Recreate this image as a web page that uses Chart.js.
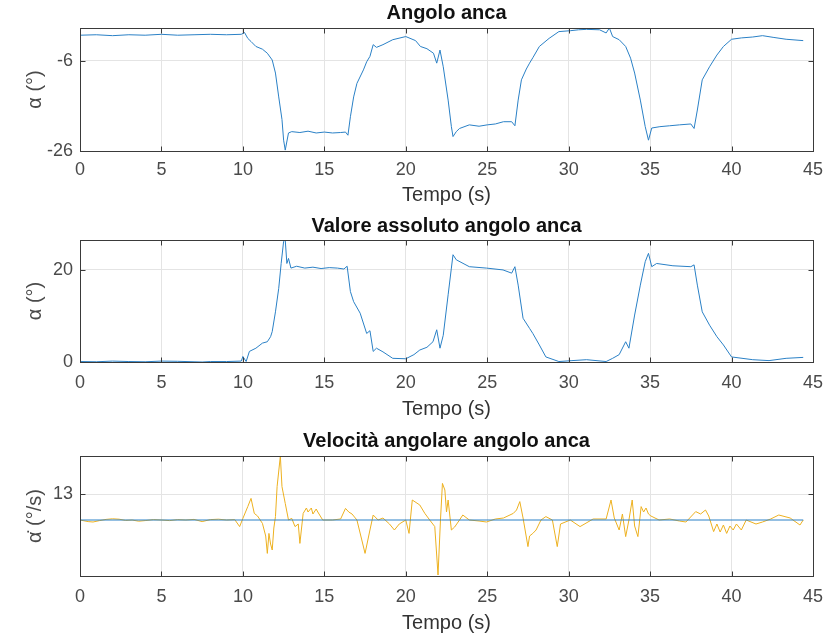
<!DOCTYPE html>
<html lang="it">
<head>
<meta charset="UTF-8">
<title>Angolo anca</title>
<style>
  body {margin: 0; background: #fff;}
  canvas {position: absolute; left: 0;}
</style>
</head>
<body>
<canvas id="c1" width="840" height="208" style="top:0px"></canvas>
<canvas id="c2" width="840" height="217" style="top:205px"></canvas>
<canvas id="c3" width="840" height="216" style="top:420px"></canvas>
<script src="https://cdn.jsdelivr.net/npm/chart.js@4.4.0/dist/chart.umd.min.js"></script>
<script>
// tempo (s) e angolo anca (°)
const tAngle = [0,1,2,3,4,5,6,7,8,9, 9.9,10.1,10.3,10.5,10.8,11.2,11.5,11.8,12.0,12.2,
  12.4,12.5,12.6,12.8,13.0,13.5,14,14.5,15,15.5, 16,16.3,16.45,16.6,16.8,17.0,17.4,17.6,17.8,18.0,
  18.2,18.6,19.2,20.0,20.6,20.9,21.3,21.7,21.9,22.1, 22.3,22.6,22.8,22.9,23.1,23.3,23.9,24.5,25.0,25.5,
  26.0,26.5,26.7,26.9,27.1,27.4,27.6,27.8,28.2,28.8, 29.4,30.1,30.6,31.1,31.9,32.3,32.5,32.7,33.1,33.5,
  33.8,34.05,34.4,34.7,34.9,35.1,35.6,36.2,36.8,37.5, 37.7,37.9,38.2,38.65,39.1,39.5,40.0,40.6,41.3,41.9,
  42.6,43.35,44.4];
const angle = [-0.3,-0.2,-0.4,-0.2,-0.3,-0.1,-0.3,-0.2,-0.1,-0.2, -0.1,0.3,-1.0,-1.7,-2.8,-3.4,-4.3,-5.8,-8.7,-14,
  -19,-23.6,-25.8,-22,-21.7,-21.9,-21.6,-22.0,-21.8,-22.0, -21.9,-21.8,-22.5,-18.4,-14,-11,-8,-6.2,-5.0,-2.4,
  -3.0,-2.4,-1.3,-0.6,-1.5,-2.8,-3.3,-4.3,-6.5,-3.6, -7.3,-14.7,-20.6,-22.8,-21.7,-21.0,-20.2,-20.5,-20.2,-20.0,
  -19.5,-19.5,-20.4,-14.7,-10.2,-7.8,-6.5,-5.3,-2.8,-1.0, 0.5,0.7,0.9,1.0,0.9,0.2,1.3,-0.6,-1.3,-2.8,
  -5.4,-8.7,-14.7,-20.6,-23.6,-20.9,-20.6,-20.4,-20.2,-20.0, -21.0,-16.9,-10.2,-7.3,-4.7,-2.8,-1.2,-0.9,-0.7,-0.4,
  -0.8,-1.2,-1.5];

// valore assoluto angolo anca
const tAbs = [0,1,2,3,4,5,6,7,7.5,8, 9,9.9,10.0,10.2,10.4,10.8,11.2,11.5,11.7,11.8,
  12.0,12.2,12.35,12.5,12.6,12.7,12.8,12.95,13.3,13.8, 14.3,14.8,15.3,15.8,16.2,16.4,16.6,16.8,17.2,17.6,
  17.8,18.0,18.2,18.6,19.2,20.0,20.5,20.86,21.3,21.67, 21.9,22.1,22.3,22.6,22.8,22.9,23.1,23.9,24.95,25.97,
  26.5,26.7,26.9,27.2,27.6,27.8,28.2,28.6,29.4,30.2, 31.1,32.3,32.7,33.1,33.5,33.7,34.05,34.4,34.7,34.9,
  35.1,35.4,36.4,37.5,37.7,37.9,38.2,38.65,39.1,39.5, 40.0,41.3,42.3,43.35,44.4];
const absAngle = [0.1,0.05,0.2,0.1,0.05,0.2,0.15,0.05,0.0,0.1, 0.1,0.2,1.2,0.1,2.3,3.0,4.1,4.4,5.5,6.6,
  10.9,16,21.4,26.2,26.5,21.4,22.5,20.4,20.8,20.4, 20.6,20.3,20.5,20.4,20.2,20.8,15.3,13.1,10.6,6.2,
  6.8,2.3,3.0,2.2,0.8,0.7,1.6,2.6,3.2,4.4, 7.0,3.0,5.8,14.6,20.4,23.3,22.2,20.7,20.4,20.0,
  19.3,20.7,16.7,9.5,7.3,6.2,3.7,1.1,0.1,0.3, 0.5,0.1,0.8,1.6,4.4,3.0,10.2,16.7,21.8,23.6,
  20.7,21.4,20.9,20.7,21.1,16.7,10.9,8.0,5.5,3.7, 1.1,0.5,0.3,0.8,1.0];

// velocità angolare (°/s)
const tVel = [0,0.5,0.8,1.2,1.6,2.0,2.4,2.8,3.2,3.6, 4.0,4.5,5.0,5.5,6.0,6.5,7.0,7.5,8.0,8.5,
  9.0,9.5,9.8,10.0,10.3,10.5,10.7,10.9,11.2,11.4, 11.5,11.6,11.7,11.8,11.9,12.0,12.1,12.3,12.4,12.6,
  12.8,13.0,13.2,13.4,13.5,13.7,13.9,14.0,14.2,14.3, 14.5,14.6,14.9,15.5,16.0,16.3,16.5,16.7,17.0,17.3,
  17.5,17.8,18.0,18.3,18.6,19.0,19.3,19.6,20.0,20.2, 20.4,20.86,21.17,21.47,21.78,21.98,22.13,22.25,22.4,22.5,
  22.6,22.8,23.0,23.3,23.5,23.9,24.5,24.95,25.5,26.0, 26.6,26.8,27.0,27.2,27.5,27.6,27.8,28.0,28.3,28.6,
  29.0,29.3,29.5,30.1,30.7,31.5,32.3,32.6,32.8,33.1, 33.3,33.5,33.7,33.9,34.05,34.25,34.45,34.6,34.75,34.9,
  35.05,35.55,36.2,36.8,37.2,37.8,38.1,38.4,38.6,38.9, 39.1,39.3,39.5,39.7,39.9,40.1,40.3,40.6,40.9,41.5,
  41.9,42.4,42.9,43.6,44.2,44.4];
const vel = [0,-0.8,-1.0,-0.3,0.3,0.6,0.4,-0.2,0,-0.6, -0.3,0.2,0,-0.3,0.2,0,0.3,-0.8,0.2,0.4,
  0,0.2,-3.3,0.8,6.7,10.8,3.3,2,-1.7,-8, -16.7,-6.7,-12,-15,-4,1.7,16.7,32,16.7,8.3,
  0,0.8,-3.3,-2,-11.7,3.3,6,4,6,3, 5.5,4,0,0,0.5,5.8,4,3,0,-10,
  -16.7,-5,2.5,0,1,-2,-5,-2,0,-6.7, 10,7.5,3.3,0,-3.3,-27.5,0,18.3,15,4,
  10,-5,-3.5,0,2.5,0,-0.5,-1,0.5,1, 3.3,5,9.2,1,-13.3,-8,-6.7,-5,0,1.7,
  0,-13.3,-2,0,-3.3,0.5,0.5,10,1,-5, 3,-8.3,0,10,-3,-8.3,6.7,4,6,3,
  2,0,0.5,-0.5,-1,4.2,3,5,2,-5.8, -2,-6,-2.5,-6.7,-3,-5,-2,-5,0,-2,
  -1,0.5,2.5,1,-2.5,0];
const tZero = [0, 44.4];
const zero = [0, 0];

const xTicks = [0,5,10,15,20,25,30,35,40,45];

const FONT = "'Liberation Sans', Arial, sans-serif";
const BLUE = '#2a80c6';
const YELLOW = '#EDB120';

function pts(ts, vs) {
  return ts.map((t, i) => ({x: t, y: vs[i]}));
}

// bordo del riquadro e tacche interne stile MATLAB
const boxPlugin = {
  id: 'box',
  afterDatasetsDraw(chart) {
    const {ctx, chartArea: a, scales} = chart;
    const L = Math.round(a.left) + 0.5, R = Math.round(a.right) + 0.5;
    const T = Math.round(a.top) + 0.5, B = Math.round(a.bottom) + 0.5;
    ctx.save();
    ctx.strokeStyle = '#3a3a3a';
    ctx.lineWidth = 1;
    ctx.beginPath();
    scales.x.ticks.forEach(tk => {
      const px = Math.round(scales.x.getPixelForValue(tk.value)) + 0.5;
      ctx.moveTo(px, T); ctx.lineTo(px, T + 5);
      ctx.moveTo(px, B); ctx.lineTo(px, B - 5);
    });
    scales.y.ticks.forEach(tk => {
      const py = Math.round(scales.y.getPixelForValue(tk.value)) + 0.5;
      ctx.moveTo(L, py); ctx.lineTo(L + 5, py);
      ctx.moveTo(R, py); ctx.lineTo(R - 5, py);
    });
    ctx.stroke();
    ctx.strokeRect(L, T, R - L, B - T);
    ctx.restore();
  }
};

function makePanel(id, p) {
  new Chart(document.getElementById(id), {
    type: 'line',
    data: {datasets: p.datasets.map(d => ({
      data: d.data, borderColor: d.color, borderWidth: 1, pointRadius: 0, tension: 0, fill: false
    }))},
    plugins: [boxPlugin],
    options: {
      responsive: false,
      animation: false,
      layout: {padding: {left: 0, right: 27, top: 0, bottom: 0}},
      plugins: {
        legend: {display: false},
        tooltip: {enabled: false},
        title: {
          display: true, text: p.title, fullSize: false, color: '#111',
          font: {family: FONT, size: 20, weight: 'bold'},
          padding: {top: p.titleTop, bottom: p.titleBottom}
        }
      },
      scales: {
        x: {
          type: 'linear', min: 0, max: 45,
          afterBuildTicks: s => { s.ticks = xTicks.map(v => ({value: v})); },
          afterFit: s => { s.height = p.xAxisH; },
          grid: {color: '#e4e4e4', drawTicks: false},
          border: {display: false},
          ticks: {padding: p.tickPad, color: '#4a4a4a', font: {family: FONT, size: 18}, maxRotation: 0},
          title: {display: true, text: 'Tempo (s)', color: '#333', font: {family: FONT, size: 20},
            padding: {top: 0, bottom: 1}}
        },
        y: {
          type: 'linear', min: p.yMin, max: p.yMax,
          afterBuildTicks: s => { s.ticks = p.yTicks.map(v => ({value: v})); },
          afterFit: s => { s.width = 80; },
          grid: {color: '#e4e4e4', drawTicks: false},
          border: {display: false},
          ticks: {padding: 7, color: '#4a4a4a', font: {family: FONT, size: 18}},
          title: {display: true, text: p.yLabel, color: '#4a4a4a', font: {family: FONT, size: 20},
            padding: {top: 23, bottom: 0}}
        }
      }
    }
  });
}

makePanel('c1', {
  title: 'Angolo anca', titleTop: 1, titleBottom: 3,
  yLabel: 'α (°)', yMin: -26, yMax: 1.3, yTicks: [-26, -6],
  xAxisH: 57, tickPad: 8,
  datasets: [{data: pts(tAngle, angle), color: BLUE}]
});

makePanel('c2', {
  title: 'Valore assoluto angolo anca', titleTop: 9, titleBottom: 2,
  yLabel: 'α (°)', yMin: 0, yMax: 26.5, yTicks: [0, 20],
  xAxisH: 60, tickPad: 10,
  datasets: [{data: pts(tAbs, absAngle), color: BLUE}]
});

makePanel('c3', {
  title: 'Velocità angolare angolo anca', titleTop: 9, titleBottom: 3,
  yLabel: 'α̇ (°/s)', yMin: -28, yMax: 32, yTicks: [13],
  xAxisH: 60, tickPad: 10,
  datasets: [
    {data: pts(tZero, zero), color: BLUE},
    {data: pts(tVel, vel), color: YELLOW}
  ]
});
</script>
</body>
</html>
